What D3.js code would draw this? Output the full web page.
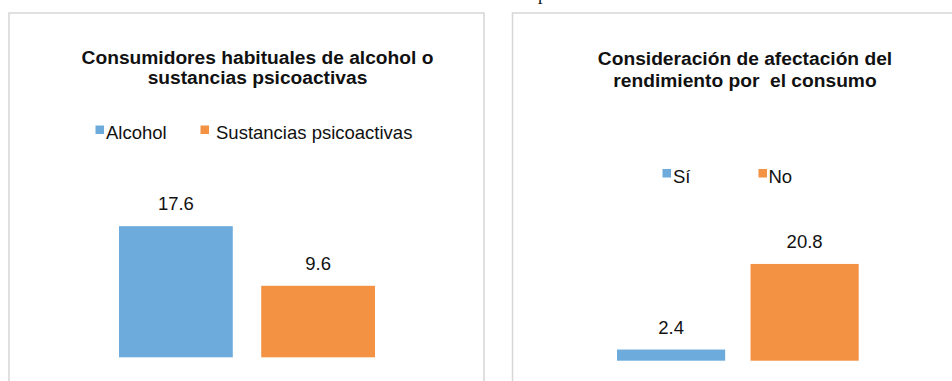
<!DOCTYPE html>
<html>
<head>
<meta charset="utf-8">
<script src="https://cdn.jsdelivr.net/npm/d3@7"></script>
<style>
  html, body { margin: 0; padding: 0; background: #fff; }
  svg { display: block; }
  text { font-family: "Liberation Sans", Arial, sans-serif; fill: #111; }
</style>
</head>
<body>
<svg id="chart" width="952" height="381"></svg>
<script>
// Chart 1: habitual consumers of alcohol or psychoactive substances
const cats1 = ["Alcohol", "Sustancias psicoactivas"];
const vals1 = [17.6, 9.6];
const title1 = ["Consumidores habituales de alcohol o", "sustancias psicoactivas"];

// Chart 2: perceived effect of consumption on performance
const cats2 = ["Sí", "No"];
const vals2 = [2.4, 20.8];
const title2 = ["Consideración de afectación del", "rendimiento por  el consumo"];

const colors = ["#6dabdc", "#f29242"];

const svg = d3.select("#chart");

// fragment of the page text above the charts
svg.append("text")
  .attr("x", 538).attr("y", 0)
  .style("font-family", "'Liberation Serif', serif")
  .style("font-size", "18px")
  .text("p");

function panel(cfg) {
  const g = svg.append("g");

  // frame
  g.append("rect")
    .attr("x", cfg.frame[0]).attr("y", cfg.frame[1])
    .attr("width", cfg.frame[2]).attr("height", cfg.frame[3])
    .attr("fill", "#fff")
    .attr("stroke", "#d6d6d6")
    .attr("stroke-width", 1.5);

  // title
  g.append("text")
    .attr("text-anchor", "middle")
    .style("font-weight", "bold")
    .style("font-size", "19.2px")
    .selectAll("tspan")
    .data(cfg.title)
    .join("tspan")
      .attr("x", cfg.titleX)
      .attr("y", (d, i) => cfg.titleY + i * cfg.titleGap)
      .style("white-space", "pre")
      .text(d => d);

  // legend
  const lg = g.selectAll("g.leg")
    .data(cfg.cats)
    .join("g")
      .attr("class", "leg")
      .attr("transform", (d, i) => `translate(${cfg.legX[i]},${cfg.legY})`);
  lg.append("rect")
    .attr("x", 0).attr("y", -13.5)
    .attr("width", 8.5).attr("height", 8.5)
    .attr("fill", (d, i) => colors[i]);
  lg.append("text")
    .attr("x", (d, i) => cfg.legGap[i]).attr("y", 0)
    .style("font-size", "18.5px")
    .text(d => d);

  // bars
  const x = d3.scaleBand()
    .domain(cfg.cats)
    .range(cfg.xRange)
    .paddingInner(cfg.pad)
    .paddingOuter(0);
  const y = d3.scaleLinear()
    .domain([0, cfg.yMax])
    .range([cfg.base, cfg.base - cfg.h]);

  g.selectAll("rect.bar")
    .data(cfg.vals)
    .join("rect")
      .attr("class", "bar")
      .attr("x", (d, i) => x(cfg.cats[i]))
      .attr("y", d => y(d))
      .attr("width", x.bandwidth())
      .attr("height", d => y(0) - y(d))
      .attr("fill", (d, i) => colors[i]);

  g.selectAll("text.val")
    .data(cfg.vals)
    .join("text")
      .attr("class", "val")
      .attr("text-anchor", "middle")
      .attr("x", (d, i) => x(cfg.cats[i]) + x.bandwidth() / 2)
      .attr("y", d => y(d) - 16)
      .style("font-size", "18.5px")
      .text(d => d3.format(".1f")(d));
}

panel({
  frame: [9, 13, 475, 400],
  title: title1, titleX: 257.5, titleY: 63.5, titleGap: 20.5,
  cats: cats1, vals: vals1,
  legX: [95.5, 200.5], legY: 139, legGap: [10.5, 15.5],
  xRange: [119, 375], pad: 0.2,
  yMax: 20, base: 357.3, h: 149
});

panel({
  frame: [512.5, 13, 480, 400],
  title: title2, titleX: 745, titleY: 65, titleGap: 22,
  cats: cats2, vals: vals2,
  legX: [662.5, 758.5], legY: 182.5, legGap: [10.5, 10],
  xRange: [617, 858.7], pad: 0.19,
  yMax: 25, base: 360.7, h: 116.3
});
</script>
</body>
</html>
